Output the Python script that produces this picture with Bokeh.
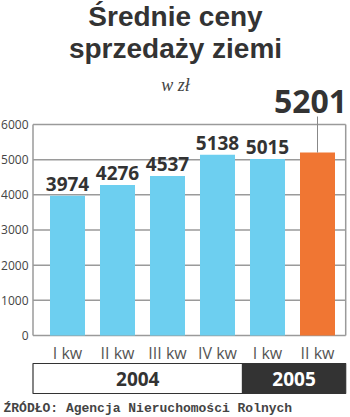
from bokeh.plotting import figure
from bokeh.layouts import column
from bokeh.models import ColumnDataSource, Range1d
from bokeh.core.properties import value
from bokeh.embed import file_html
from bokeh.resources import INLINE

# ---- data ----
quarters = ["I kw", "II kw", "III kw", "IV kw", "I kw", "II kw"]
prices = [3974, 4276, 4537, 5138, 5015, 5201]
years = ["2004", "2005"]
year_counts = [4, 2]
y_ticks = [0, 1000, 2000, 3000, 4000, 5000, 6000]
title_lines = ["Średnie ceny", "sprzedaży ziemi"]
unit_text = "w zł"
source_text = "ŹRÓDŁO: Agencja Nieruchomości Rolnych"

BLUE = "#6dcff0"
ORANGE = "#f07633"
DARK = "#333333"
GRID = "#9a9a9a"

W, H = 350, 417
FOOT_H = 19
MAIN_H = H - FOOT_H
FL, FR = 32.5, 345.2      # plot box left / right in px
UNIT = 50.0               # px per category
BAR0_PX = 67.0            # centre of first category in px
ZERO_PX, PX_PER_K = 335.0, 35.17

def xdat(px):
    return (px - BAR0_PX) / UNIT

def ydat(py):
    return (ZERO_PX - py) / PX_PER_K * 1000.0

XL, XR = xdat(FL), xdat(FR)

p = figure(width=W, height=MAIN_H, output_backend="svg", toolbar_location=None,
           x_range=Range1d(xdat(0), xdat(W)), y_range=Range1d(ydat(MAIN_H), ydat(0)),
           min_border_left=0, min_border_right=0, min_border_top=0, min_border_bottom=0,
           background_fill_color="white", border_fill_color="white", outline_line_color=None)
p.axis.visible = False
p.grid.visible = False

# grid lines and plot box
n = len(y_ticks)
p.segment(x0=[XL] * n, y0=y_ticks, x1=[XR] * n, y1=y_ticks, line_color=GRID, line_width=1.5)
p.segment(x0=[XL, XR], y0=[y_ticks[0]] * 2, x1=[XL, XR], y1=[y_ticks[-1]] * 2,
          line_color=GRID, line_width=1.5)
p.text(x=[xdat(28)] * n, y=y_ticks, text=[str(t) for t in y_ticks], text_align="right",
       text_baseline="middle", text_font=value("Open Sans"), text_font_size="12px",
       text_color="#444444")

xs = list(range(len(prices)))
colors = [BLUE] * (len(prices) - 1) + [ORANGE]
src = ColumnDataSource(dict(x=xs, top=prices, color=colors, cat=quarters))
p.vbar(x="x", top="top", width=0.7, color="color", line_color=None, source=src)

# value labels (all but last)
lab_src = ColumnDataSource(dict(x=xs[:-1], y=prices[:-1], label=[str(v) for v in prices[:-1]]))
p.text(x="x", y="y", text="label", source=lab_src, text_align="center",
       text_baseline="alphabetic", y_offset=-12, text_font=value("Open Sans"),
       text_font_style="bold", text_font_size="19px", text_color=DARK)

# highlighted last value
last_src = ColumnDataSource(dict(x=[xs[-1]], y=[ydat(101)], label=[str(prices[-1])],
                                 y0=[prices[-1]], y1=[ydat(116)]))
p.text(x="x", y="y", text="label", source=last_src, text_align="center",
       text_baseline="alphabetic", x_offset=-7, text_font=value("Open Sans"),
       text_font_style="bold", text_font_size="32px", text_color=DARK)
p.segment(x0="x", y0="y0", x1="x", y1="y1", source=last_src, line_color="#888888", line_width=1)

# category labels
p.text(x="x", y=ydat(352), text="cat", source=src, text_align="center",
       text_baseline="middle", text_font=value("Open Sans"), text_font_size="16px",
       text_color="#555555")

# year band
split = year_counts[0] - 0.5
p.quad(left=[XL, split], right=[split, XR], bottom=ydat(393), top=ydat(363),
       fill_color=["white", DARK], line_color=DARK, line_width=1.2)
p.text(x=[(XL + split) / 2, (split + XR) / 2], y=[ydat(378)] * 2, text=years,
       text_align="center", text_baseline="middle", text_font=value("Open Sans"),
       text_font_style="bold", text_font_size="19px", text_color=[DARK, "white"])

# titles
cx = xdat(W / 2)
p.text(x=[cx, cx], y=[ydat(16), ydat(48)], text=title_lines, text_align="center",
       text_baseline="alphabetic", text_font=value("Liberation Sans"), text_font_style="bold",
       text_font_size="28px", text_color=DARK)
p.text(x=[cx], y=[ydat(84)], text=[unit_text], text_align="center",
       text_baseline="alphabetic", text_font=value("Liberation Serif"), text_font_style="italic",
       text_font_size="18px", text_color="#444444")

# footer with source
f = figure(width=W, height=FOOT_H, output_backend="svg", toolbar_location=None,
           x_range=Range1d(0, W), y_range=Range1d(0, FOOT_H),
           min_border_left=0, min_border_right=0, min_border_top=0, min_border_bottom=0,
           background_fill_color="white", border_fill_color="white", outline_line_color=None)
f.axis.visible = False
f.grid.visible = False
f.text(x=[3], y=[8.7], text=[source_text], text_align="left", text_baseline="alphabetic",
       text_font=value("Liberation Mono"), text_font_style="bold", text_font_size="13px",
       text_color="#444444")

layout = column(p, f, spacing=0)
open("out.html", "w").write(file_html(layout, INLINE))
